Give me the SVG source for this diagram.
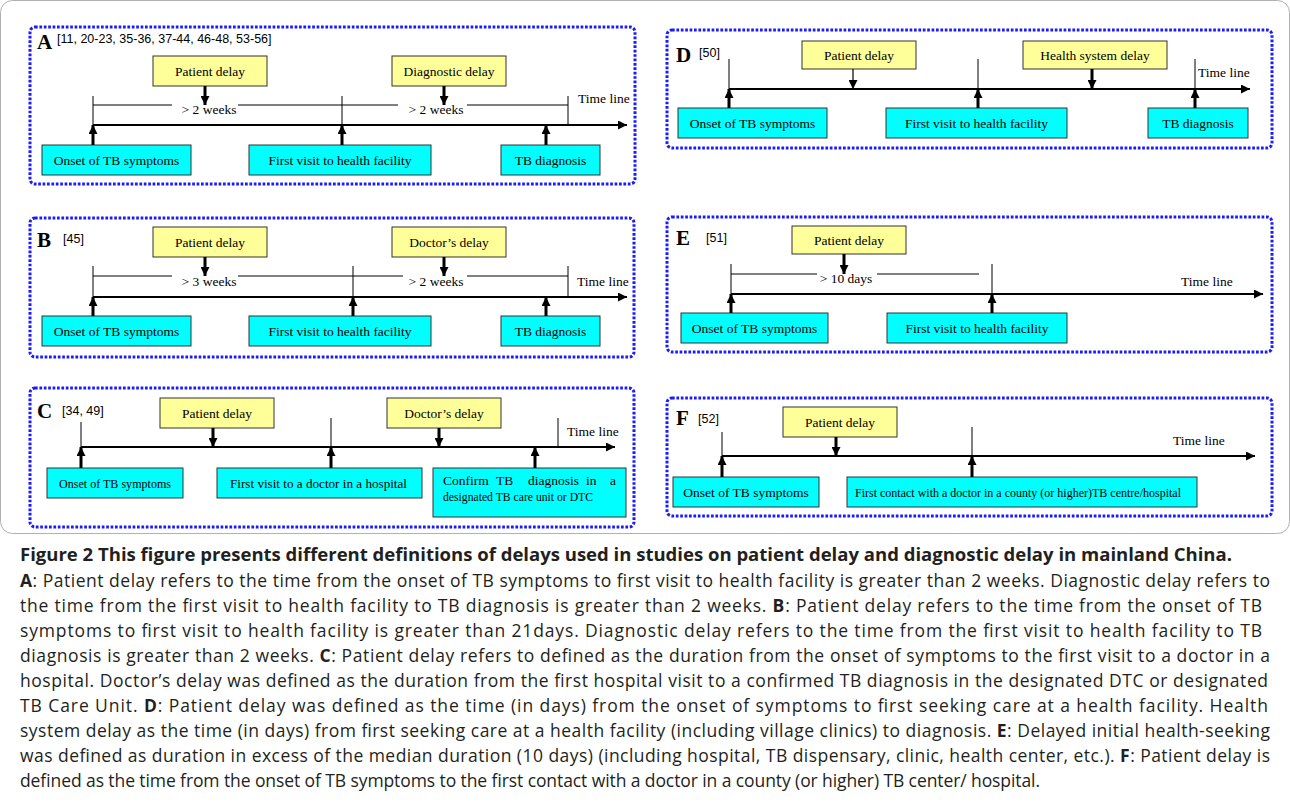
<svg xmlns="http://www.w3.org/2000/svg" width="1290" height="812" viewBox="0 0 1290 812">
<style>
.pb{fill:none;stroke:#1a1aff;stroke-width:3;stroke-dasharray:2.7 1.7}
.yb{fill:#ffff99;stroke:#333;stroke-width:1}
.cb{fill:#00ffff;stroke:#333;stroke-width:1}
.t{font-family:"Liberation Serif","Times New Roman",serif;font-size:13.5px;fill:#000}
.m{text-anchor:middle}
.lab{font-family:"Liberation Serif","Times New Roman",serif;font-weight:bold;font-size:21px;fill:#000}
.ref{font-family:"Liberation Sans",Arial,sans-serif;font-size:12.5px;fill:#000}
.thin{stroke:#000;stroke-width:1;fill:none}
.tl{stroke:#000;stroke-width:2;fill:none;marker-end:url(#ah)}
.arr{stroke:#000;stroke-width:3;fill:none;marker-end:url(#ah)}
.arrt{stroke:#000;stroke-width:1.2;fill:none;marker-end:url(#ah)}
.cap{font-family:"Open Sans","Noto Sans","Liberation Sans",sans-serif;font-size:17.5px;fill:#231f20}
.b{font-weight:bold}
</style>
<defs>
<marker id="ah" markerUnits="userSpaceOnUse" markerWidth="9" markerHeight="9" viewBox="0 0 10 10" refX="10" refY="5" orient="auto">
<path d="M0,0 L10,5 L0,10 z" fill="#000"/>
</marker>
</defs>
<rect x="0.5" y="0.5" width="1289" height="533" rx="12" fill="none" stroke="#b0b0b0" stroke-width="1"/>

<!-- Panel A -->
<g id="panelA">
<rect class="pb" x="30" y="27" width="605" height="157" rx="5"/>
<text class="lab" x="37" y="49">A</text>
<text class="ref" x="57" y="43">[11, 20-23, 35-36, 37-44, 46-48, 53-56]</text>
<g id="A-patient"><rect class="yb" x="153" y="56" width="114" height="30"/><text class="t m" x="210" y="76">Patient delay</text></g>
<g id="A-diag"><rect class="yb" x="392" y="56" width="114" height="30"/><text class="t m" x="449" y="76">Diagnostic delay</text></g>
<g id="A-onset"><rect class="cb" x="42" y="145" width="149" height="30"/><text class="t m" x="116.5" y="165">Onset of TB  symptoms</text></g>
<g id="A-first"><rect class="cb" x="249" y="145" width="182" height="30"/><text class="t m" x="340" y="165">First visit to health facility</text></g>
<g id="A-tb"><rect class="cb" x="501" y="145" width="99" height="30"/><text class="t m" x="550.5" y="165">TB  diagnosis</text></g>
<text class="t m" x="209" y="114">&gt; 2 weeks</text>
<text class="t m" x="436" y="114">&gt; 2 weeks</text>
<text class="t" x="578" y="103">Time line</text>
</g>

<!-- Panel B -->
<g id="panelB">
<rect class="pb" x="30" y="218" width="604" height="139" rx="5"/>
<text class="lab" x="37" y="247">B</text>
<text class="ref" x="63" y="243">[45]</text>
<g id="B-patient"><rect class="yb" x="153" y="227" width="114" height="30"/><text class="t m" x="210" y="247">Patient delay</text></g>
<g id="B-doctor"><rect class="yb" x="392" y="227" width="114" height="30"/><text class="t m" x="449" y="247">Doctor’s delay</text></g>
<g id="B-onset"><rect class="cb" x="42" y="316" width="149" height="30"/><text class="t m" x="116.5" y="336">Onset of TB  symptoms</text></g>
<g id="B-first"><rect class="cb" x="249" y="316" width="182" height="30"/><text class="t m" x="340" y="336">First visit to health facility</text></g>
<g id="B-tb"><rect class="cb" x="501" y="316" width="99" height="30"/><text class="t m" x="550.5" y="336">TB  diagnosis</text></g>
<text class="t m" x="209" y="286">&gt; 3 weeks</text>
<text class="t m" x="436" y="286">&gt; 2 weeks</text>
<text class="t" x="577" y="286">Time line</text>
</g>

<!-- Panel C -->
<g id="panelC">
<rect class="pb" x="30" y="388" width="604" height="139" rx="5"/>
<text class="lab" x="37" y="418">C</text>
<text class="ref" x="62" y="415">[34, 49]</text>
<g id="C-patient"><rect class="yb" x="160" y="398" width="114" height="30"/><text class="t m" x="217" y="418">Patient delay</text></g>
<g id="C-doctor"><rect class="yb" x="387" y="398" width="114" height="30"/><text class="t m" x="444" y="418">Doctor’s delay</text></g>
<g id="C-onset"><rect class="cb" x="47" y="468" width="136" height="30"/><text class="t" x="59" y="488" textLength="112" lengthAdjust="spacingAndGlyphs">Onset of TB symptoms</text></g>
<g id="C-first"><rect class="cb" x="217" y="468" width="205" height="30"/><text class="t" x="230" y="488" textLength="177" lengthAdjust="spacingAndGlyphs">First visit to a doctor in a hospital</text></g>
<g id="C-confirm"><rect class="cb" x="433" y="468" width="193" height="49"/>
<text class="t" y="485"><tspan x="443">Confirm</tspan><tspan x="496">TB</tspan><tspan x="528">diagnosis</tspan><tspan x="586">in</tspan><tspan x="610">a</tspan></text>
<text class="t" x="443" y="501" textLength="150" lengthAdjust="spacingAndGlyphs">designated TB care unit or DTC</text></g>
<text class="t" x="567" y="436">Time line</text>
</g>

<!-- Panel D -->
<g id="panelD">
<rect class="pb" x="667" y="30" width="605" height="118" rx="5"/>
<text class="lab" x="676" y="62">D</text>
<text class="ref" x="699" y="57">[50]</text>
<g id="D-patient"><rect class="yb" x="802" y="41" width="114" height="28"/><text class="t m" x="859" y="60">Patient delay</text></g>
<g id="D-health"><rect class="yb" x="1023" y="41" width="144" height="28"/><text class="t m" x="1095" y="60">Health system delay</text></g>
<g id="D-onset"><rect class="cb" x="678" y="108" width="149" height="30"/><text class="t m" x="752.5" y="128">Onset of TB  symptoms</text></g>
<g id="D-first"><rect class="cb" x="886" y="108" width="181" height="30"/><text class="t m" x="976.5" y="128">First visit to health facility</text></g>
<g id="D-tb"><rect class="cb" x="1148" y="108" width="100" height="30"/><text class="t m" x="1198" y="128">TB diagnosis</text></g>
<text class="t" x="1198" y="77">Time line</text>
</g>

<!-- Panel E -->
<g id="panelE">
<rect class="pb" x="667" y="217" width="605" height="135" rx="5"/>
<text class="lab" x="676" y="245">E</text>
<text class="ref" x="706" y="242">[51]</text>
<g id="E-patient"><rect class="yb" x="792" y="226" width="114" height="28"/><text class="t m" x="849" y="245">Patient delay</text></g>
<g id="E-onset"><rect class="cb" x="681" y="313" width="147" height="30"/><text class="t m" x="754.5" y="333">Onset of TB symptoms</text></g>
<g id="E-first"><rect class="cb" x="887" y="313" width="180" height="30"/><text class="t m" x="977" y="333">First visit to health facility</text></g>
<text class="t m" x="846" y="283">&gt; 10 days</text>
<text class="t" x="1181" y="286">Time line</text>
</g>

<!-- Panel F -->
<g id="panelF">
<rect class="pb" x="667" y="398" width="605" height="118" rx="5"/>
<text class="lab" x="676" y="425">F</text>
<text class="ref" x="698" y="423">[52]</text>
<g id="F-patient"><rect class="yb" x="783" y="407" width="114" height="30"/><text class="t m" x="840" y="427">Patient delay</text></g>
<g id="F-onset"><rect class="cb" x="673" y="477" width="146" height="30"/><text class="t m" x="746" y="497">Onset of TB  symptoms</text></g>
<g id="F-first"><rect class="cb" x="847" y="477" width="350" height="30"/><text class="t" x="855" y="497" textLength="326" lengthAdjust="spacingAndGlyphs">First contact with a doctor in a county (or higher)TB  centre/hospital</text></g>
<text class="t" x="1173" y="445">Time line</text>
</g>

<!-- Connectors -->
<g id="connectors">
<path class="thin" d="M93,105 H172 M238,105 H398 M467,105 H568 M93,96 V125 M342,96 V125 M568,96 V125"/>
<line class="tl" x1="93" y1="125" x2="627" y2="125"/>
<line class="arr" x1="205" y1="86" x2="205" y2="105"/>
<line class="arr" x1="444" y1="86" x2="444" y2="105"/>
<line class="arr" x1="93" y1="145" x2="93" y2="125"/>
<line class="arr" x1="342" y1="145" x2="342" y2="125"/>
<line class="arr" x1="546" y1="145" x2="546" y2="125"/>
<path class="thin" d="M93,276 H172 M238,276 H403 M467,276 H568 M93,266 V297 M353,266 V297 M568,266 V297"/>
<line class="tl" x1="93" y1="297" x2="627" y2="297"/>
<line class="arr" x1="205" y1="257" x2="205" y2="276"/>
<line class="arr" x1="444" y1="257" x2="444" y2="276"/>
<line class="arr" x1="93" y1="316" x2="93" y2="297"/>
<line class="arr" x1="353" y1="316" x2="353" y2="297"/>
<line class="arr" x1="546" y1="316" x2="546" y2="297"/>
<path class="thin" d="M81,422 V447 M331,418 V447 M558,418 V447"/>
<line class="tl" x1="81" y1="447" x2="615" y2="447"/>
<line class="arr" x1="213" y1="428" x2="213" y2="447"/>
<line class="arr" x1="439" y1="428" x2="439" y2="447"/>
<line class="arr" x1="81" y1="468" x2="81" y2="447"/>
<line class="arr" x1="331" y1="468" x2="331" y2="447"/>
<line class="arr" x1="535" y1="468" x2="535" y2="447"/>
<path class="thin" d="M729,59 V89 M978,59 V89 M1195,59 V89"/>
<line class="tl" x1="729" y1="89" x2="1250" y2="89"/>
<line class="arrt" x1="853" y1="69" x2="853" y2="89"/>
<line class="arr" x1="1092" y1="69" x2="1092" y2="89"/>
<line class="arr" x1="729" y1="108" x2="729" y2="89"/>
<line class="arr" x1="978" y1="108" x2="978" y2="89"/>
<line class="arr" x1="1195" y1="108" x2="1195" y2="89"/>
<path class="thin" d="M731,274 H817 M877,274 H979 M731,264 V294 M992,264 V294"/>
<line class="tl" x1="731" y1="294" x2="1263" y2="294"/>
<line class="arr" x1="844" y1="254" x2="844" y2="274"/>
<line class="arr" x1="731" y1="313" x2="731" y2="294"/>
<line class="arr" x1="992" y1="313" x2="992" y2="294"/>
<path class="thin" d="M722,432 V456 M972,427 V456"/>
<line class="tl" x1="722" y1="456" x2="1255" y2="456"/>
<line class="arr" x1="836" y1="437" x2="836" y2="456"/>
<line class="arr" x1="722" y1="477" x2="722" y2="456"/>
<line class="arr" x1="972" y1="477" x2="972" y2="456"/>
</g>

<!-- Caption -->
<g id="caption">
<text class="cap b" x="20" y="561" textLength="1212" lengthAdjust="spacingAndGlyphs">Figure 2 This figure presents different definitions of delays used in studies on patient delay and diagnostic delay in mainland China.</text>
<text class="cap" x="20" y="587" textLength="1250" lengthAdjust="spacing"><tspan class="b">A</tspan>: Patient delay refers to the time from the onset of TB symptoms to first visit to health facility is greater than 2 weeks. Diagnostic delay refers to</text>
<text class="cap" x="20" y="612" textLength="1242" lengthAdjust="spacing">the time from the first visit to health facility to TB diagnosis is greater than 2 weeks. <tspan class="b">B</tspan>: Patient delay refers to the time from the onset of TB</text>
<text class="cap" x="20" y="637" textLength="1242" lengthAdjust="spacing">symptoms to first visit to health facility is greater than 21days. Diagnostic delay refers to the time from the first visit to health facility to TB</text>
<text class="cap" x="20" y="662" textLength="1250" lengthAdjust="spacing">diagnosis is greater than 2 weeks. <tspan class="b">C</tspan>: Patient delay refers to defined as the duration from the onset of symptoms to the first visit to a doctor in a</text>
<text class="cap" x="20" y="687" textLength="1248" lengthAdjust="spacing">hospital. Doctor’s delay was defined as the duration from the first hospital visit to a confirmed TB diagnosis in the designated DTC or designated</text>
<text class="cap" x="20" y="712" textLength="1248" lengthAdjust="spacing">TB Care Unit. <tspan class="b">D</tspan>: Patient delay was defined as the time (in days) from the onset of symptoms to first seeking care at a health facility. Health</text>
<text class="cap" x="20" y="737" textLength="1250" lengthAdjust="spacing">system delay as the time (in days) from first seeking care at a health facility (including village clinics) to diagnosis. <tspan class="b">E</tspan>: Delayed initial health-seeking</text>
<text class="cap" x="20" y="762" textLength="1250" lengthAdjust="spacing">was defined as duration in excess of the median duration (10 days) (including hospital, TB dispensary, clinic, health center, etc.). <tspan class="b">F</tspan>: Patient delay is</text>
<text class="cap" x="20" y="787" textLength="1020" lengthAdjust="spacing">defined as the time from the onset of TB symptoms to the first contact with a doctor in a county (or higher) TB center/ hospital.</text>
</g>
</svg>
